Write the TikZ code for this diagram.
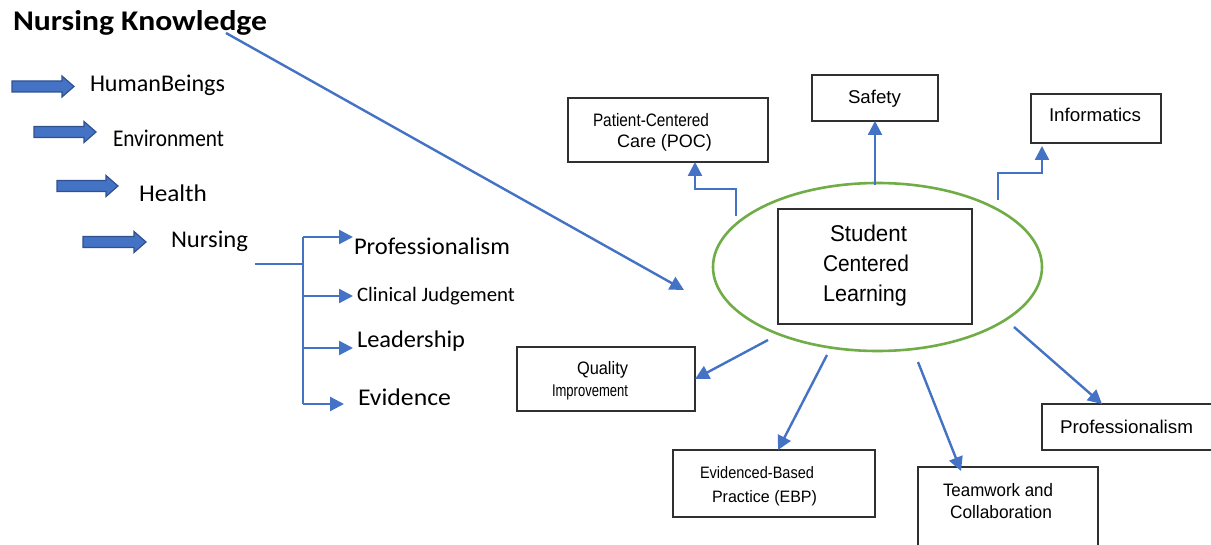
\documentclass[tikz,border=0pt]{standalone}
\usepackage{fontspec}
\usepackage{graphicx}
\setmainfont{Carlito}
\newfontfamily\arialf{Liberation Sans}
\usetikzlibrary{arrows.meta,shapes.geometric}
\definecolor{mblue}{HTML}{4472C4}
\definecolor{dblue}{HTML}{2F528F}
\definecolor{mgreen}{HTML}{70AD47}
\definecolor{boxline}{HTML}{303030}
\newcommand\fitto[2]{\resizebox{#1pt}{\height}{#2}}
\newcommand\fs[1]{\fontsize{#1}{#1}\selectfont}
\newcommand\blockarr[3]{\draw[blockarr] (#1,#3-5.5) -- (#2-12,#3-5.5) -- (#2-12,#3-10.5) -- (#2,#3) -- (#2-12,#3+10.5) -- (#2-12,#3+5.5) -- (#1,#3+5.5) -- cycle;}
\tikzset{
  blockarr/.style={fill=mblue,draw=dblue,line width=1.2pt,line join=miter},
  lbl/.style={inner sep=0pt,outer sep=0pt,anchor=base west},
  clbl/.style={inner sep=0pt,outer sep=0pt,anchor=base},
  boxn/.style={draw=boxline,line width=1.3pt,inner sep=0pt,outer sep=0pt,rectangle},
  bline/.style={draw=mblue,line width=2.4pt},
  conn/.style={draw=mblue,line width=2.4pt,-{Triangle[length=14pt,width=14pt]}},
}
\begin{document}
\begin{tikzpicture}[x=1pt,y=-1pt]
\useasboundingbox (0,0) rectangle (1211,545);
\clip (0,0) rectangle (1211,545);
\fill[white] (0,0) rectangle (1211,545);

% title
\node[lbl] (title) at (13,31) {\fs{28.5}\bfseries\fitto{254}{Nursing Knowledge}};

% block arrows
\blockarr{12}{74}{86.5}
\blockarr{34}{96}{132}
\blockarr{57}{118}{186}
\blockarr{83}{146}{242}

% left texts
\node[lbl] (hb) at (90,92) {\fs{24}\fitto{135}{HumanBeings}};
\node[lbl] (env) at (113,147) {\fs{24}\fitto{111}{Environment}};
\node[lbl] (hea) at (139,202) {\fs{24}\fitto{68}{Health}};
\node[lbl] (nur) at (171,248) {\fs{24}\fitto{77}{Nursing}};
\node[lbl] (pr1) at (354,255) {\fs{24}\fitto{156}{Professionalism}};
\node[lbl] (cj) at (357,302) {\fs{20.5}\fitto{158}{Clinical Judgement}};
\node[lbl] (lead) at (357,348) {\fs{24}\fitto{108}{Leadership}};
\node[lbl] (evi) at (358,406) {\fs{24}\fitto{93}{Evidence}};

% bracket
\coordinate (n0) at (255,264);
\coordinate (bj) at (303,264);
\coordinate (b1) at (303,237);
\coordinate (b2) at (303,296);
\coordinate (b3) at (303,348);
\coordinate (b4) at (303,404);
\coordinate (t1) at (353,237);
\coordinate (t2) at (353,296);
\coordinate (t3) at (353,348);
\coordinate (t4) at (344,404);
\draw[bline] (n0) -- (bj);
\draw[bline] (b1) -- (b4);
\draw[conn] (b1) -- (t1);
\draw[conn] (b2) -- (t2);
\draw[conn] (b3) -- (t3);
\draw[conn] (b4) -- (t4);

% central ellipse and box
\node[ellipse,draw=mgreen,line width=2.6pt,minimum width=329pt,minimum height=168pt,inner sep=0pt] (ell) at (877.5,267) {};
\node[boxn,minimum width=194pt,minimum height=115pt] (slc) at (875,266.5) {};
\node[clbl] (s1) at (868.5,242) {\arialf\fs{22.8}\fitto{77}{Student}};
\node[clbl] (s2) at (866,272) {\arialf\fs{22.8}\fitto{86}{Centered}};
\node[clbl] (s3) at (865,302) {\arialf\fs{22.8}\fitto{84}{Learning}};

% boxes
\node[boxn,minimum width=200pt,minimum height=64pt] (pcc) at (668,130) {};
\node[boxn,minimum width=126pt,minimum height=46pt] (safety) at (875,98) {};
\node[boxn,minimum width=130pt,minimum height=49pt] (info) at (1096,118.5) {};
\node[boxn,minimum width=178pt,minimum height=64pt] (qi) at (606,379) {};
\node[boxn,minimum width=202pt,minimum height=67pt] (ebp) at (774,483.5) {};
\node[boxn,minimum width=180pt,minimum height=93pt] (team) at (1008,513.5) {};
\node[boxn,minimum width=178pt,minimum height=46pt] (prof) at (1131,427) {};

% box texts
\node[lbl] (pcc1) at (593,127) {\arialf\fs{18}\fitto{116}{Patient-Centered}};
\node[lbl] (pcc2) at (617,148) {\arialf\fs{18}\fitto{95}{Care (POC)}};
\node[lbl] (saf1) at (848,104) {\arialf\fs{18.5}\fitto{53}{Safety}};
\node[lbl] (inf1) at (1049,122) {\arialf\fs{18.5}\fitto{92}{Informatics}};
\node[lbl] (qi1) at (577,375) {\arialf\fs{18}\fitto{51}{Quality}};
\node[lbl] (qi2) at (552,397) {\arialf\fs{17}\fitto{76}{Improvement}};
\node[lbl] (ebp1) at (700,478) {\arialf\fs{16.5}\fitto{114}{Evidenced-Based}};
\node[lbl] (ebp2) at (712,502) {\arialf\fs{16.5}\fitto{105}{Practice (EBP)}};
\node[lbl] (tm1) at (943,496) {\arialf\fs{18}\fitto{110}{Teamwork and}};
\node[lbl] (tm2) at (950,518) {\arialf\fs{18}\fitto{102}{Collaboration}};
\node[lbl] (pf1) at (1060,433) {\arialf\fs{18.5}\fitto{133}{Professionalism}};

% connectors
\coordinate (kst) at (226,33);
\coordinate (kend) at (684,290);
\draw[conn] (kst) -- (kend);

\coordinate (pccS) at (736,216);
\draw[conn] (pccS) -- ++(0,-27) -| ([xshift=27pt]pcc.south);

\coordinate (safS) at (875,185);
\draw[conn] (safS) -- (safety.south);

\coordinate (infS) at (998,200);
\coordinate (infT) at (1042,146);
\draw[conn] (infS) |- (1042,173) -- (infT);

\coordinate (qiS) at (768,340);
\draw[conn] (qiS) -- (qi.east);

\coordinate (ebpS) at (827,355);
\draw[conn] (ebpS) -- ([xshift=4pt]ebp.north);

\coordinate (tmS) at (918,362);
\coordinate (tmT) at (961,471);
\draw[conn] (tmS) -- (tmT);

\coordinate (pfS) at (1014,327);
\draw[conn] (pfS) -- ([xshift=60pt]prof.north west);
\end{tikzpicture}
\end{document}
